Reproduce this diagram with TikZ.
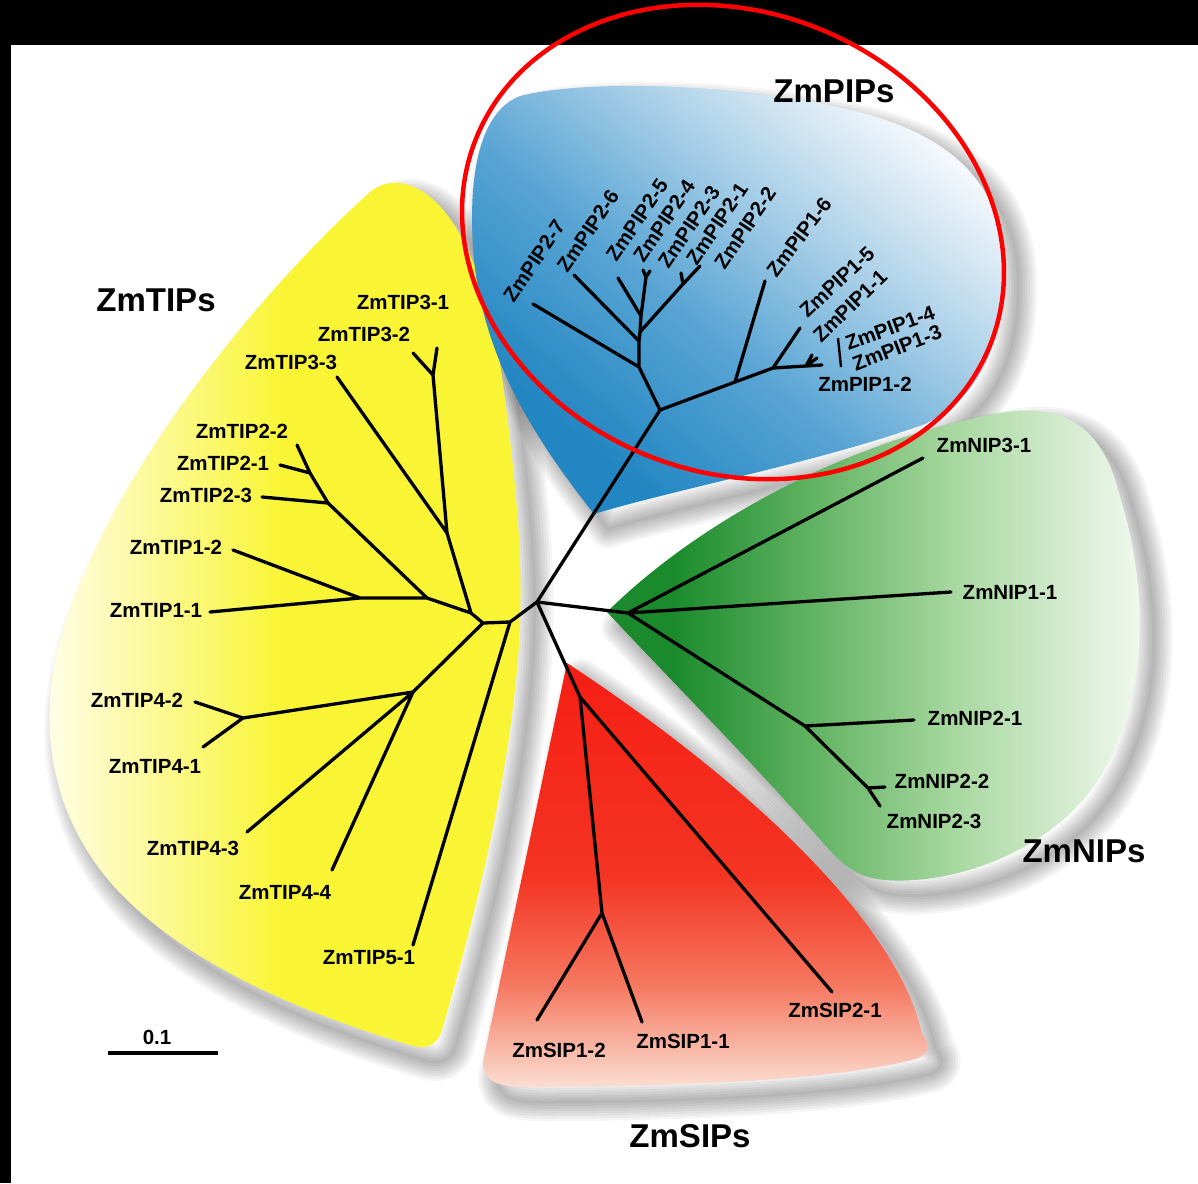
\documentclass[tikz,border=0pt]{standalone}
\usepackage{fontspec}
\setmainfont{Liberation Sans}
\newcommand\leaffont{\bfseries\fontsize{20.5}{23}\selectfont}
\newcommand\grpfont{\bfseries\fontsize{33}{37}\selectfont}
\definecolor{ylw}{RGB}{249,245,52}
\definecolor{ylwlight}{RGB}{252,249,150}
\definecolor{ylwpale}{RGB}{255,254,236}
\definecolor{bluedark}{RGB}{34,134,194}
\definecolor{bluemid}{RGB}{88,164,212}
\definecolor{bluelite}{RGB}{170,208,232}
\definecolor{bluelight}{RGB}{244,248,252}
\definecolor{grndark}{RGB}{26,138,44}
\definecolor{grnmid}{RGB}{92,176,94}
\definecolor{grnlite}{RGB}{168,216,160}
\definecolor{grnlight}{RGB}{244,250,242}
\definecolor{reddark}{RGB}{245,30,20}
\definecolor{redmid}{RGB}{244,52,34}
\definecolor{redsalmon}{RGB}{245,120,96}
\definecolor{redlight}{RGB}{251,222,210}
\definecolor{ringred}{RGB}{255,0,0}
\pgfdeclarehorizontalshading{ylwshade}{100bp}{color(0bp)=(ylwpale); color(25bp)=(ylwpale); color(37bp)=(ylwlight); color(50bp)=(ylw); color(100bp)=(ylw)}
\pgfdeclarehorizontalshading{grnshade}{100bp}{color(0bp)=(grndark); color(31bp)=(grndark); color(43bp)=(grnmid); color(57bp)=(grnlite); color(75bp)=(grnlight); color(100bp)=(grnlight)}
\pgfdeclareverticalshading{redshade}{100bp}{color(0bp)=(redlight); color(25bp)=(redlight); color(37bp)=(redsalmon); color(50bp)=(redmid); color(75bp)=(reddark); color(100bp)=(reddark)}
\pgfdeclareverticalshading{blueshade}{100bp}{color(0bp)=(bluedark); color(28bp)=(bluedark); color(45bp)=(bluemid); color(60bp)=(bluelite); color(75bp)=(bluelight); color(100bp)=(bluelight)}
\tikzset{
 branch/.style={line width=3.3pt, line cap=round, line join=round},
 leaf/.style={font=\leaffont, inner sep=0pt},
 grp/.style={font=\grpfont, inner sep=0pt},
 blobT/.style={insert path={(400,183) .. controls (450,190) and (490,270) .. (505,400) .. controls (518,500) and (526,585) .. (516,680) .. controls (502,820) and (462,960) .. (442,1030) .. controls (437,1046) and (425,1050) .. (410,1045) .. controls (300,1012) and (180,962) .. (110,882) .. controls (55,817) and (40,740) .. (55,660) .. controls (90,500) and (250,300) .. (370,192) .. controls (380,184) and (390,182) .. (400,183) -- cycle}},
 blobP/.style={insert path={(594,514) .. controls (540,445) and (485,365) .. (474,260) .. controls (467,180) and (478,112) .. (520,96) .. controls (590,78) and (760,84) .. (870,115) .. controls (955,140) and (1000,185) .. (1004,260) .. controls (1007,340) and (980,398) .. (925,424) .. controls (820,462) and (680,488) .. (594,514) -- cycle}},
 blobN/.style={insert path={(607,612) .. controls (700,520) and (850,440) .. (1000,413) .. controls (1075,400) and (1105,440) .. (1118,490) .. controls (1150,590) and (1150,700) .. (1095,785) .. controls (1045,855) and (950,885) .. (885,880) .. controls (860,878) and (845,868) .. (825,845) .. controls (760,770) and (680,690) .. (607,612) -- cycle}},
 blobS/.style={insert path={(567,663) -- (483,1062) .. controls (484,1082) and (496,1087) .. (530,1087) .. controls (700,1087) and (840,1078) .. (912,1060) .. controls (932,1055) and (930,1044) .. (922,1034) .. controls (900,930) and (760,790) .. (567,663) -- cycle}}
}
\newcommand\blobshade[1]{%
 \foreach \lw in {38,33,28,23,18,13,8,3}{%
   \path[shift={(14,15)}, draw=black, draw opacity=0.038, line width=\lw pt, line join=round, #1];}}
\begin{document}
\begin{tikzpicture}[x=1pt,y=-1pt]
\useasboundingbox (0,0) rectangle (1198,1183);
\fill[white] (0,0) rectangle (1198,1183);
% shadows
\blobshade{blobT}
\blobshade{blobP}
\blobshade{blobN}
\blobshade{blobS}
% blobs
\shade[shading=ylwshade, blobT];
\shade[shading=blueshade, shading angle=-40, blobP];
\shade[shading=grnshade, blobN];
\shade[shading=redshade, blobS];
% black frame
\fill[black] (0,0) rectangle (1198,45);
\fill[black] (0,0) rectangle (11,1183);
% tree coordinates
\coordinate (R) at (537,602);
% PIPs
\coordinate (P0) at (660,410);
\coordinate (P2a) at (639,367);
\coordinate (P2b) at (639,341);
\coordinate (P2c) at (640,332);
\coordinate (P2d) at (641,316);
\coordinate (F1) at (646,277);
\coordinate (F2) at (683,284);
\coordinate (tP27) at (533,304);
\coordinate (tP26) at (574,275);
\coordinate (tP25) at (618,278);
\coordinate (tP24) at (643,270);
\coordinate (tP23) at (650,271);
\coordinate (tP21) at (681,273);
\coordinate (tP22) at (700,266);
\coordinate (P1a) at (735,382);
\coordinate (P1b) at (773,368);
\coordinate (F3) at (806,366);
\coordinate (tP16) at (765,281);
\coordinate (tP15) at (800,328);
\coordinate (tP14) at (812,355);
\coordinate (tP13) at (817,358);
\coordinate (tP12) at (822,365);
% TIPs
\coordinate (Tb) at (510,622);
\coordinate (Ta) at (483,623);
\coordinate (Tc) at (471,613);
\coordinate (T3) at (447,533);
\coordinate (T3f) at (433,375);
\coordinate (tT31) at (437,348);
\coordinate (tT32) at (413,353);
\coordinate (tT33) at (337,377);
\coordinate (T12) at (427,598);
\coordinate (T1) at (360,598);
\coordinate (tT12) at (233,550);
\coordinate (tT11) at (210,612);
\coordinate (T2B) at (328,503);
\coordinate (tT23) at (262,497);
\coordinate (T2A) at (310,473);
\coordinate (tT22) at (297,445);
\coordinate (tT21) at (280,465);
\coordinate (T4) at (413,692);
\coordinate (T4f) at (243,718);
\coordinate (tT42) at (195,702);
\coordinate (tT41) at (203,747);
\coordinate (tT43) at (247,832);
\coordinate (tT44) at (332,870);
\coordinate (tT51) at (413,945);
% NIPs
\coordinate (N0) at (628,613);
\coordinate (tN31) at (923,458);
\coordinate (tN11) at (951,592);
\coordinate (N2) at (805,726);
\coordinate (tN21) at (914,720);
\coordinate (N2f) at (868,788);
\coordinate (tN22) at (885,787);
\coordinate (tN23) at (880,806);
% SIPs
\coordinate (S0) at (580,697);
\coordinate (S1) at (602,913);
\coordinate (tS12) at (537,1020);
\coordinate (tS11) at (642,1022);
\coordinate (tS21) at (832,992);
% branches
\draw[branch] (R) -- (P0) (P0) -- (P2a) (P2a) -- (tP27) (P2a) -- (P2b) (P2b) -- (tP26) (P2b) -- (P2c) (P2c) -- (P2d) (P2d) -- (tP25) (P2d) -- (F1) (F1) -- (tP24) (F1) -- (tP23) (P2c) -- (F2) (F2) -- (tP21) (F2) -- (tP22)
  (P0) -- (P1a) (P1a) -- (tP16) (P1a) -- (P1b) (P1b) -- (tP15) (P1b) -- (F3) (F3) -- (tP12) (F3) -- (tP14) (F3) -- (tP13);
\draw[branch] (R) -- (Tb) (Tb) -- (tT51) (Tb) -- (Ta) (Ta) -- (T4) (Ta) -- (Tc) (Tc) -- (T3) (T3) -- (T3f) (T3f) -- (tT31) (T3f) -- (tT32) (T3) -- (tT33)
  (Tc) -- (T12) (T12) -- (T1) (T1) -- (tT12) (T1) -- (tT11) (T12) -- (T2B) (T2B) -- (tT23) (T2B) -- (T2A) (T2A) -- (tT22) (T2A) -- (tT21)
  (T4) -- (T4f) (T4f) -- (tT42) (T4f) -- (tT41) (T4) -- (tT43) (T4) -- (tT44);
\draw[branch] (R) -- (N0) (N0) -- (tN31) (N0) -- (tN11) (N0) -- (N2) (N2) -- (tN21) (N2) -- (N2f) (N2f) -- (tN22) (N2f) -- (tN23);
\draw[branch] (R) -- (S0) (S0) -- (S1) (S1) -- (tS12) (S1) -- (tS11) (S0) -- (tS21);
% bracket for PIP1-4 / PIP1-3
\coordinate (brA) at (838,338);
\coordinate (brB) at (841,367);
\draw[line width=2.4pt] (brA) -- (brB);
% PIP labels
\node[leaf, rotate=56] (lP27) at (534,261) {ZmPIP2-7};
\node[leaf, rotate=56] (lP26) at (588,231) {ZmPIP2-6};
\node[leaf, rotate=56] (lP25) at (637,220) {ZmPIP2-5};
\node[leaf, rotate=56] (lP24) at (664,221) {ZmPIP2-4};
\node[leaf, rotate=56] (lP23) at (689,227) {ZmPIP2-3};
\node[leaf, rotate=56] (lP21) at (717,224) {ZmPIP2-1};
\node[leaf, rotate=56] (lP22) at (745,228) {ZmPIP2-2};
\node[leaf, rotate=53] (lP16) at (799,237) {ZmPIP1-6};
\node[leaf, rotate=43] (lP15) at (837,282) {ZmPIP1-5};
\node[leaf, rotate=44] (lP11) at (850,306) {ZmPIP1-1};
\node[leaf, rotate=20] (lP14) at (890,328) {ZmPIP1-4};
\node[leaf, rotate=21] (lP13) at (897,348) {ZmPIP1-3};
\node[leaf] (lP12) at (865,384) {ZmPIP1-2};
% TIP labels
\node[leaf] (lT31) at (403,302) {ZmTIP3-1};
\node[leaf] (lT32) at (364,334) {ZmTIP3-2};
\node[leaf] (lT33) at (291,362) {ZmTIP3-3};
\node[leaf] (lT22) at (242,431) {ZmTIP2-2};
\node[leaf] (lT21) at (223,463) {ZmTIP2-1};
\node[leaf] (lT23) at (206,495) {ZmTIP2-3};
\node[leaf] (lT12) at (176,547) {ZmTIP1-2};
\node[leaf] (lT11) at (156,610) {ZmTIP1-1};
\node[leaf] (lT42) at (137,700) {ZmTIP4-2};
\node[leaf] (lT41) at (155,766) {ZmTIP4-1};
\node[leaf] (lT43) at (193,848) {ZmTIP4-3};
\node[leaf] (lT44) at (285,892) {ZmTIP4-4};
\node[leaf] (lT51) at (369,958) {ZmTIP5-1};
% NIP labels
\node[leaf] (lN31) at (984,445) {ZmNIP3-1};
\node[leaf] (lN11) at (1010,592) {ZmNIP1-1};
\node[leaf] (lN21) at (975,718) {ZmNIP2-1};
\node[leaf] (lN22) at (942,781) {ZmNIP2-2};
\node[leaf] (lN23) at (934,821) {ZmNIP2-3};
% SIP labels
\node[leaf] (lS12) at (559,1050) {ZmSIP1-2};
\node[leaf] (lS11) at (683,1041) {ZmSIP1-1};
\node[leaf] (lS21) at (835,1010) {ZmSIP2-1};
% group titles
\node[grp] (gP) at (834,91) {ZmPIPs};
\node[grp] (gT) at (156,300) {ZmTIPs};
\node[grp] (gN) at (1084,851) {ZmNIPs};
\node[grp] (gS) at (690,1136) {ZmSIPs};
% scale bar
\node[leaf] (sbl) at (157,1037) {0.1};
\coordinate (sbA) at (108,1053);
\coordinate (sbB) at (218,1053);
\draw[line width=3.8pt] (sbA) -- (sbB);
% red ring
\coordinate (ringC) at (733,242);
\draw[ringred, line width=4.5pt, rotate around={-22:(ringC)}] (ringC) ellipse [x radius=277pt, y radius=230pt];
\end{tikzpicture}
\end{document}
